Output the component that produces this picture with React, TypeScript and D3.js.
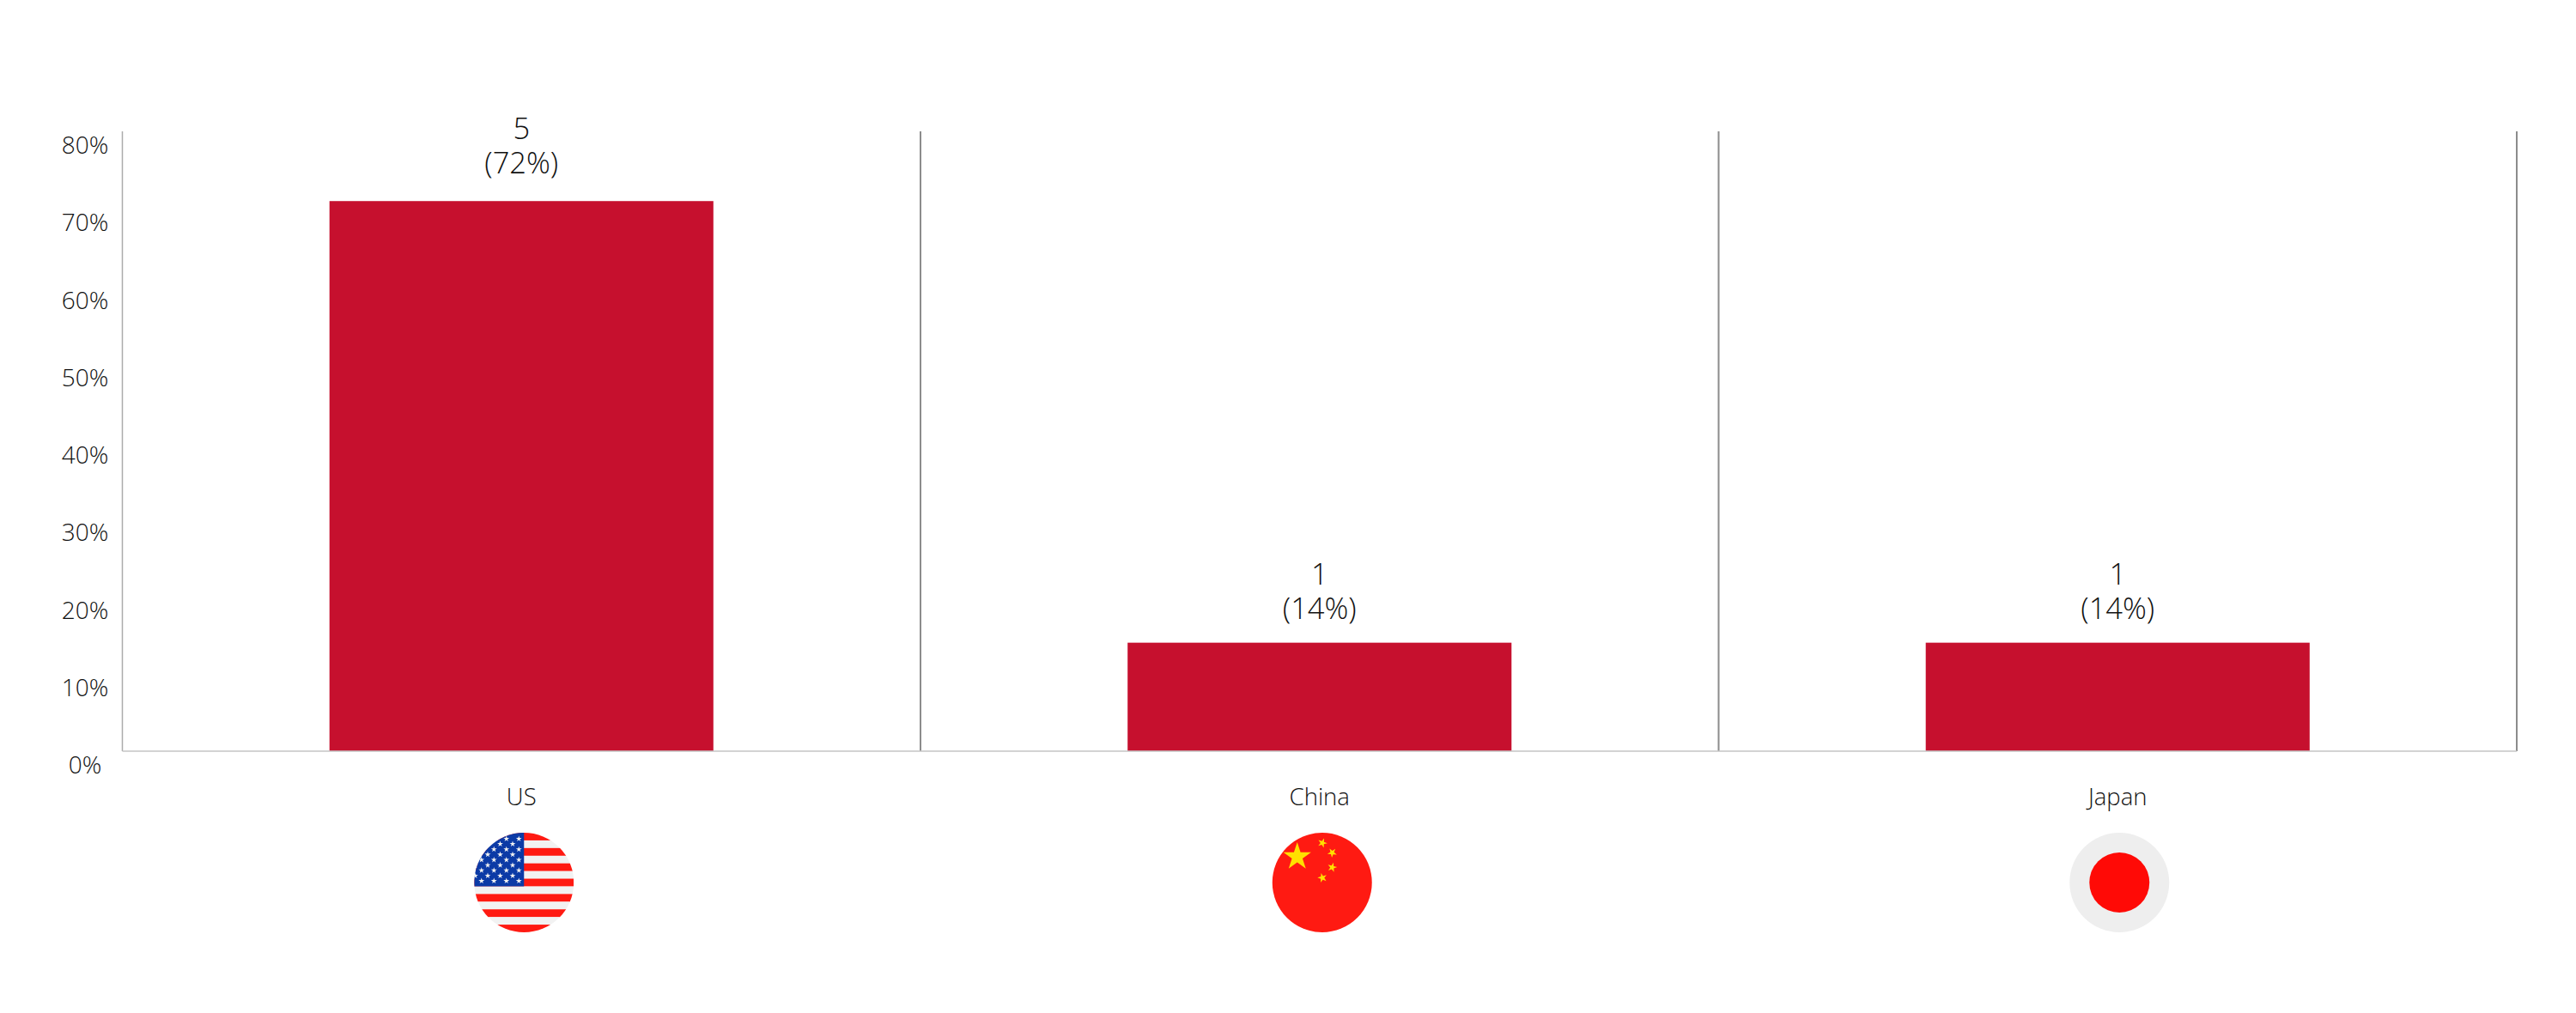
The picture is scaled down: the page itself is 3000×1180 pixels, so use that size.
import React, { useEffect, useRef } from "react";
import * as d3 from "d3";

const countries = ["US", "China", "Japan"];
const barValues = [71, 14, 14];
const counts = ["5", "1", "1"];
const shares = ["(72%)", "(14%)", "(14%)"];
const yTicks = [0, 10, 20, 30, 40, 50, 60, 70, 80];

const width = 3000;
const height = 1180;
const margin = { top: 153, right: 69, bottom: 305, left: 142.5 };
const FONT = "'Open Sans', sans-serif";
const TEXT = "#111111";
const BAR = "#c6102e";
const FLAG_RED = "#ff1a12";

const starPath = (r: number) =>
  d3.symbol().type(d3.symbolStar).size((r * r) / 0.8908)()!;

export default function App() {
  const ref = useRef<SVGSVGElement>(null);

  useEffect(() => {
    const svg = d3.select(ref.current);
    svg.selectAll("*").remove();

    const x = d3
      .scaleBand()
      .domain(countries)
      .range([margin.left, width - margin.right])
      .paddingInner(0.519)
      .paddingOuter(0.2595);
    const y = d3
      .scaleLinear()
      .domain([0, 80])
      .range([height - margin.bottom, margin.top]);
    const y0 = y(0);

    // bars
    svg
      .append("g")
      .selectAll("rect")
      .data(countries)
      .join("rect")
      .attr("x", (d) => x(d)!)
      .attr("width", x.bandwidth())
      .attr("y", (_, i) => y(barValues[i]))
      .attr("height", (_, i) => y0 - y(barValues[i]))
      .attr("fill", BAR);

    // y axis: labels sit a little under their tick position and are centred
    const yAxis = d3
      .axisLeft(y)
      .tickValues(yTicks)
      .tickSize(0)
      .offset(0)
      .tickFormat((d) => `${d}%`);
    const yG = svg
      .append("g")
      .attr("transform", `translate(${margin.left},0)`)
      .call(yAxis as any);
    yG.select(".domain").attr("stroke", "#ababab").attr("stroke-width", 1.5);
    yG.selectAll("text")
      .attr("x", 99 - margin.left)
      .attr("dy", 26)
      .attr("text-anchor", "middle")
      .attr("font-family", FONT)
      .attr("font-weight", 300)
      .attr("font-size", 28)
      .attr("fill", TEXT);

    // separators between the categories
    const step = x.step();
    svg
      .append("g")
      .selectAll("line")
      .data(countries)
      .join("line")
      .attr("x1", (d) => x(d)! + x.bandwidth() / 2 + step / 2)
      .attr("x2", (d) => x(d)! + x.bandwidth() / 2 + step / 2)
      .attr("y1", margin.top)
      .attr("y2", y0)
      .attr("stroke", "#8c8c8c")
      .attr("stroke-width", 2);

    // baseline
    svg
      .append("line")
      .attr("x1", margin.left)
      .attr("x2", width - margin.right)
      .attr("y1", y0)
      .attr("y2", y0)
      .attr("stroke", "#c4c4c4")
      .attr("stroke-width", 1.5);

    // value labels, the tall bar's label sits a bit further off its bar
    const labels = svg
      .append("g")
      .attr("font-family", FONT)
      .attr("font-weight", 300)
      .attr("font-size", 34.5)
      .attr("fill", TEXT)
      .attr("text-anchor", "middle");
    countries.forEach((c, i) => {
      const cx = x(c)! + x.bandwidth() / 2;
      const top = y(barValues[i]);
      const lineY = top - (top < 300 ? 32 : 27.5);
      labels
        .append("text")
        .attr("x", cx)
        .attr("y", lineY - 40.5)
        .text(counts[i]);
      labels.append("text").attr("x", cx).attr("y", lineY).text(shares[i]);
    });

    // category labels
    svg
      .append("g")
      .selectAll("text")
      .data(countries)
      .join("text")
      .attr("x", (d) => x(d)! + x.bandwidth() / 2)
      .attr("y", 938)
      .attr("text-anchor", "middle")
      .attr("font-family", FONT)
      .attr("font-weight", 300)
      .attr("font-size", 27.5)
      .attr("fill", TEXT)
      .text((d) => d);

    // flags
    const R = 58;
    const flagCy = 1028;
    const usCx = x("US")! + x.bandwidth() / 2 + 3;
    const cnCx = x("China")! + x.bandwidth() / 2 + 3;
    const jpCx = x("Japan")! + x.bandwidth() / 2 + 2;

    // US
    svg
      .append("defs")
      .append("clipPath")
      .attr("id", "us-clip")
      .append("circle")
      .attr("r", R);
    const us = svg
      .append("g")
      .attr("transform", `translate(${usCx},${flagCy})`)
      .attr("clip-path", "url(#us-clip)");
    const stripeH = (2 * R) / 13;
    d3.range(13).forEach((i) => {
      us.append("rect")
        .attr("x", -R)
        .attr("y", -R + i * stripeH)
        .attr("width", 2 * R)
        .attr("height", stripeH + 0.3)
        .attr("fill", i % 2 === 0 ? FLAG_RED : "#f2f2f2");
    });
    us.append("rect")
      .attr("x", -R)
      .attr("y", -R)
      .attr("width", R)
      .attr("height", 7 * stripeH)
      .attr("fill", "#0b3aa6");
    d3.range(9).forEach((row) => {
      d3.range(4).forEach((col) => {
        us.append("path")
          .attr("d", starPath(3.6))
          .attr(
            "transform",
            `translate(${-6 - col * 14.5 - (row % 2) * 7.25},${-51 + row * 6.15})`,
          )
          .attr("fill", "#f2f2f2");
      });
    });

    // China
    const cn = svg.append("g").attr("transform", `translate(${cnCx},${flagCy})`);
    cn.append("circle").attr("r", R).attr("fill", FLAG_RED);
    cn.append("path")
      .attr("d", starPath(17))
      .attr("transform", "translate(-29,-30)")
      .attr("fill", "#ffe000");
    [
      [0.3, -46, 20],
      [11.7, -34.7, 40],
      [11.7, -17.7, 15],
      [0.3, -5.5, -15],
    ].forEach(([dx, dy, rot]) => {
      cn.append("path")
        .attr("d", starPath(5.8))
        .attr("transform", `translate(${dx},${dy}) rotate(${rot})`)
        .attr("fill", "#ffe000");
    });

    // Japan
    const jp = svg.append("g").attr("transform", `translate(${jpCx},${flagCy})`);
    jp.append("circle").attr("r", R).attr("fill", "#eeeeee");
    jp.append("circle").attr("r", 35).attr("fill", "#ff0a06");
  }, []);

  return (
    <svg
      ref={ref}
      width={width}
      height={height}
      style={{ position: "absolute", left: 0, top: 0, background: "#fff" }}
    />
  );
}
